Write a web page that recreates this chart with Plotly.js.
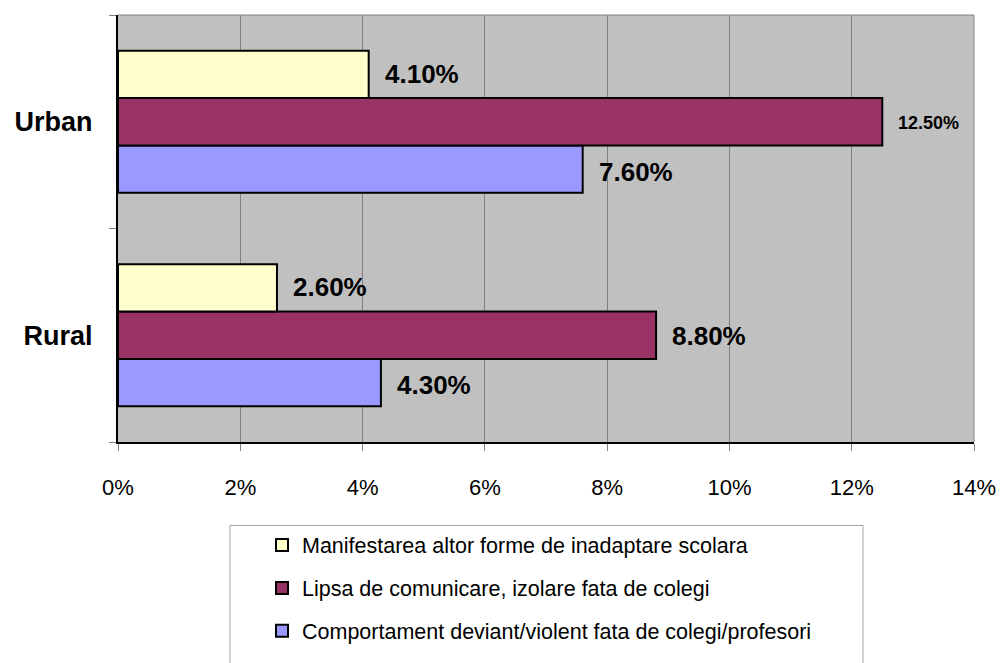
<!DOCTYPE html>
<html>
<head>
<meta charset="utf-8">
<script src="https://cdn.plot.ly/plotly-3.0.1.min.js"></script>
<style>html,body{margin:0;padding:0;background:#fff;}#chart{width:1000px;height:663px;}</style>
</head>
<body>
<div id="chart"></div>
<script>
// ---- data ----
var categories = ['Rural', 'Urban'];
var seriesNames = [
  'Manifestarea altor forme de inadaptare scolara',
  'Lipsa de comunicare, izolare fata de colegi',
  'Comportament deviant/violent fata de colegi/profesori'
];
var manifestarea = [0.026, 0.041];
var lipsa = [0.088, 0.125];
var comportament = [0.043, 0.076];
var labelsManifestarea = ['2.60%', '4.10%'];
var labelsLipsa = ['8.80%', '12.50%'];
var labelsComportament = ['4.30%', '7.60%'];
var xTickVals = [0, 0.02, 0.04, 0.06, 0.08, 0.10, 0.12, 0.14];
var xTickText = ['0%', '2%', '4%', '6%', '8%', '10%', '12%', '14%'];

var FONT = 'Liberation Sans, Arial, sans-serif';
var colors = ['#FFFFCC', '#993366', '#9999FF'];
var seriesValues = [manifestarea, lipsa, comportament];
var seriesLabels = [labelsManifestarea, labelsLipsa, labelsComportament];

// bottom-to-top drawing order: comportament, lipsa, manifestarea
var order = [2, 1, 0];
var traces = order.map(function (i) {
  return {
    type: 'bar',
    orientation: 'h',
    name: seriesNames[i],
    y: categories,
    x: seriesValues[i],
    legendgroup: 'g' + i,
    legendrank: i + 1,
    marker: { color: colors[i], line: { color: '#000000', width: 2 } },
    hoverinfo: 'x+name'
  };
});

// labels as annotations, shifted to each bar's slot within its group
var slotShift = { 0: 49, 1: 0, 2: -49 };
var annotations = [];
seriesValues.forEach(function (vals, i) {
  vals.forEach(function (v, j) {
    var small = seriesLabels[i][j] === '12.50%';
    annotations.push({
      x: v, y: categories[j], xref: 'x', yref: 'y',
      text: seriesLabels[i][j], showarrow: false,
      xanchor: 'left', yanchor: 'middle',
      xshift: 14, yshift: slotShift[i] - 1,
      font: { family: FONT, size: small ? 18 : 26, color: '#000', weight: 700 }
    });
  });
});

var layout = {
  width: 1000, height: 663,
  margin: { l: 118, r: 26, t: 15, b: 208 },
  paper_bgcolor: '#ffffff',
  plot_bgcolor: '#C0C0C0',
  barmode: 'group',
  bargap: 0.336,
  bargroupgap: 0,
  showlegend: true,
  font: { family: FONT, color: '#000' },
  xaxis: {
    range: [0, 0.14],
    tickvals: xTickVals, ticktext: xTickText,
    showgrid: true, gridcolor: '#808080', gridwidth: 1,
    zeroline: false,
    ticks: 'outside', ticklen: 7, tickcolor: '#808080', tickwidth: 1,
    ticklabelstandoff: 18,
    showline: true, linecolor: '#000000', linewidth: 2,
    tickfont: { family: FONT, size: 22, color: '#000' },
    fixedrange: true
  },
  yaxis: {
    type: 'category',
    categoryorder: 'array', categoryarray: categories,
    tickson: 'boundaries',
    ticks: 'outside', ticklen: 7, tickcolor: '#808080', tickwidth: 1,
    ticklabelstandoff: 18,
    showgrid: false, zeroline: false,
    showline: true, linecolor: '#000000', linewidth: 2,
    tickfont: { family: FONT, size: 27, color: '#000', weight: 700 },
    fixedrange: true
  },
  shapes: [
    { type: 'line', xref: 'paper', yref: 'paper', x0: 0, x1: 1, y0: 1, y1: 1,
      line: { color: '#808080', width: 1 } },
    { type: 'line', xref: 'paper', yref: 'paper', x0: 1, x1: 1, y0: 0, y1: 1,
      line: { color: '#808080', width: 1 } },
    { type: 'rect', xref: 'paper', yref: 'paper',
      x0: (230 - 118) / 856, x1: (863 - 118) / 856,
      y0: -0.7, y1: (455 - 541) / 440,
      line: { color: '#A0A0A0', width: 1 }, fillcolor: 'rgba(0,0,0,0)' }
  ],
  legend: {
    x: (262 - 118) / 856, xanchor: 'left',
    y: (455 - 540) / 440, yanchor: 'top',
    traceorder: 'grouped',
    tracegroupgap: 12,
    bgcolor: 'rgba(0,0,0,0)',
    borderwidth: 0,
    font: { family: FONT, size: 21.5, color: '#000' }
  },
  annotations: annotations
};

Plotly.newPlot('chart', traces, layout, { displayModeBar: false, staticPlot: true });
</script>
</body>
</html>
